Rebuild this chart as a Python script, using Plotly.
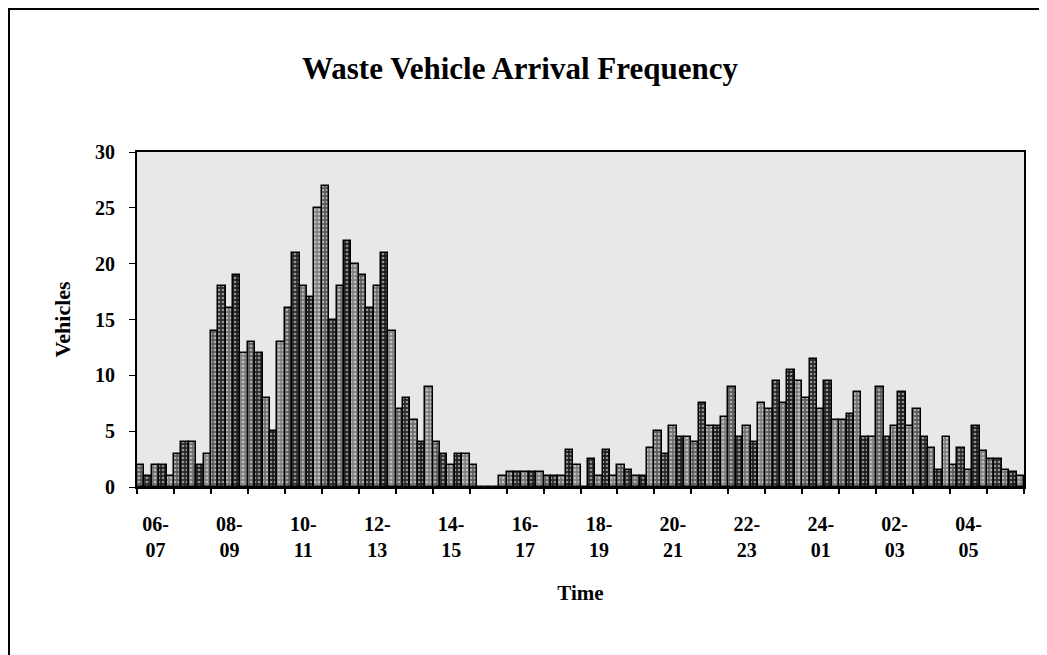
import plotly.graph_objects as go

hours = ["06-07", "07-08", "08-09", "09-10", "10-11", "11-12", "12-13", "13-14",
         "14-15", "15-16", "16-17", "17-18", "18-19", "19-20", "20-21", "21-22",
         "22-23", "23-24", "24-01", "01-02", "02-03", "03-04", "04-05", "05-06"]

series_1 = [2, 3, 14, 13, 16, 27, 19, 7, 4, 2, 1.3, 1, 0, 2, 5, 4, 9, 7, 8, 6, 9, 7, 2, 2.5]
series_2 = [1, 4, 18, 12, 21, 15, 16, 8, 3, 0, 1.3, 1, 2.5, 1.5, 3, 7.5, 4.5, 9.5, 11.5, 6.5, 4.5, 4.5, 3.5, 2.5]
series_3 = [2, 4, 16, 8, 18, 18, 18, 6, 2, 0, 1.3, 1, 1, 1, 5.5, 5.5, 5.5, 7.5, 7, 8.5, 5.5, 3.5, 1.5, 1.5]
series_4 = [2, 2, 19, 5, 17, 22, 21, 4, 3, 0, 1.3, 3.3, 3.3, 1, 4.5, 5.5, 4, 10.5, 9.5, 4.5, 8.5, 1.5, 5.5, 1.3]
series_5 = [1, 3, 12, 13, 25, 20, 14, 9, 3, 1, 1.3, 2, 1, 3.5, 4.5, 6.3, 7.5, 9.5, 6, 4.5, 5.5, 4.5, 3.2, 1]

series = [series_1, series_2, series_3, series_4, series_5]
fills = ["#5c5c5c", "#2a2a2a", "#707070", "#1e1e1e", "#808080"]

tick_text = [h.replace("-", "-<br>") if i % 2 == 0 else "" for i, h in enumerate(hours)]

fig = go.Figure()
for vals, col in zip(series, fills):
    fig.add_trace(go.Bar(
        x=hours, y=vals,
        marker=dict(color=col, line=dict(color="black", width=1.5),
                    pattern=dict(shape=".", fgcolor="#ffffff", size=4, solidity=0.35)),
        showlegend=False,
    ))

font_family = "Liberation Serif"
W, H = 1039, 647  # page body margin of 8px is compensated
fig.update_layout(
    width=W, height=H,
    margin=dict(l=129, r=23, t=144, b=168),
    paper_bgcolor="white",
    plot_bgcolor="#e8e8e8",
    barmode="group", bargap=0, bargroupgap=0,
    title=dict(text="<b>Waste Vehicle Arrival Frequency</b>", x=512 / W, xref="container",
               xanchor="center", y=1 - 60 / H, yanchor="middle",
               font=dict(family=font_family, size=31, color="black")),
    font=dict(family=font_family, color="black"),
)
fig.update_xaxes(
    type="category", tickmode="array", tickvals=hours, ticktext=tick_text,
    tickson="boundaries", ticks="outside", ticklen=5, tickcolor="black", tickwidth=2,
    ticklabelstandoff=18, tickangle=0,
    tickfont=dict(family=font_family, size=20, color="black", weight="bold"),
    showline=True, linecolor="black", linewidth=2, mirror=True,
    showgrid=False,
    title=dict(text="<b>Time</b>", font=dict(family=font_family, size=21, color="black"), standoff=25),
)
fig.update_yaxes(
    range=[0, 30], dtick=5, ticks="outside", ticklen=6, tickcolor="black",
    ticklabelstandoff=10,
    tickfont=dict(family=font_family, size=20, color="black", weight="bold"),
    showline=True, linecolor="black", linewidth=2, mirror=True,
    showgrid=False, zeroline=False,
    title=dict(text="<b>Vehicles</b>", font=dict(family=font_family, size=22, color="black"), standoff=18),
)
fig.add_shape(type="rect", xref="paper", yref="paper",
              x0=(1 - 129) / 887, x1=(1100 - 129) / 887,
              y0=(479 - 700) / 335, y1=(479 - 1) / 335,
              line=dict(color="black", width=2), fillcolor="rgba(0,0,0,0)", layer="below")

fig.write_html("out.html")
